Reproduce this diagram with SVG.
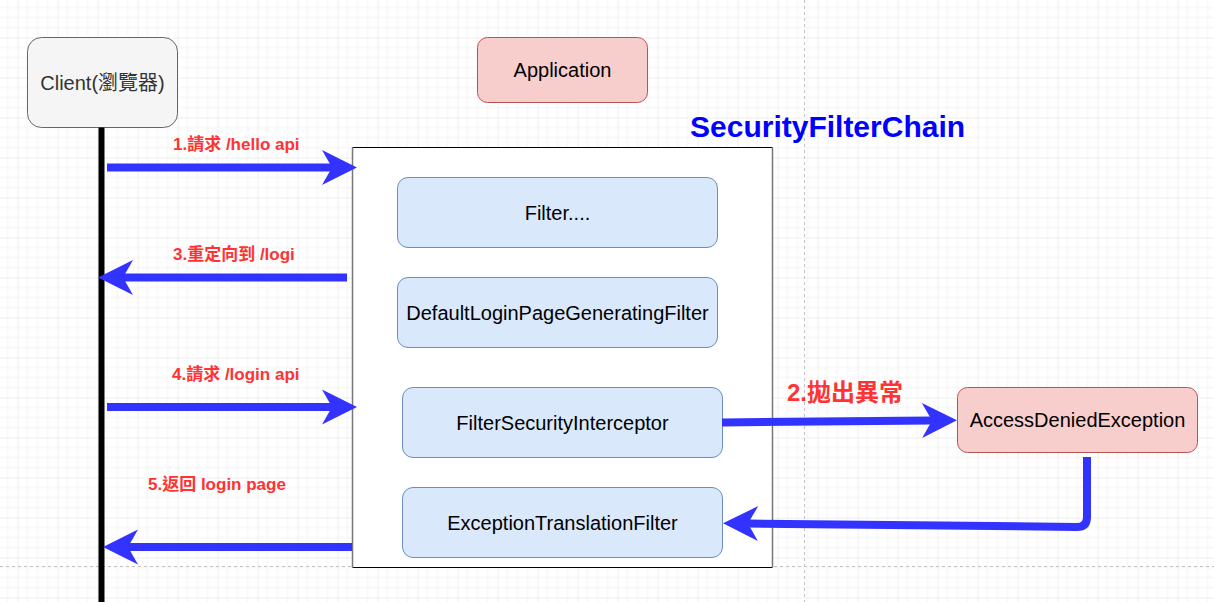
<svg xmlns="http://www.w3.org/2000/svg" width="1214" height="602" viewBox="0 0 1214 602">
<style>
text{font-family:"Liberation Sans","Noto Sans CJK TC",sans-serif}
.n{font-size:20px;text-anchor:middle;fill:#000}
.blue{fill:#dae8fc;stroke:#6c8ebf;stroke-width:1}
.red{fill:#f8cecc;stroke:#b85450;stroke-width:1}
.lbl{font-size:17px;font-weight:bold;fill:#ff3333}
.arr{fill:none;stroke:#3333ff;stroke-width:8;marker-end:url(#head)}
.pg{stroke:#c0c0c0;stroke-width:1;stroke-dasharray:3 3;fill:none}
</style>
<defs>
<pattern id="grid" patternUnits="userSpaceOnUse" x="17.5" y="37.5" width="40" height="40">
<rect width="40" height="40" fill="#fff"/>
<path d="M10 0V40M20 0V40M30 0V40M0 10H40M0 20H40M0 30H40" stroke="#f3f3f3" stroke-width="1"/>
<path d="M0 0V40M0 0H40" stroke="#e0e0e0" stroke-width="1"/>
</pattern>
<marker id="head" markerUnits="userSpaceOnUse" markerWidth="36" markerHeight="36" refX="10" refY="17.5" orient="auto" overflow="visible">
<path d="M0,0 L35,17.5 L0,35 L10,17.5 Z" fill="#3333ff"/>
</marker>
</defs>
<rect width="1214" height="602" fill="url(#grid)"/>
<path class="pg" d="M804.5 0V602M0 566.5H1214"/>

<g id="frame">
<rect x="352.5" y="147.5" width="420" height="420" fill="#fff"/>
<path d="M352.5 147.5H772.5M352.5 567.5H772.5" stroke="#000" stroke-width="1"/>
<path d="M352.5 147.5V567.5M772.5 147.5V567.5" stroke="#777" stroke-width="1.5"/>
</g>
<g id="title">
<text x="690" y="137" style="font-size:30px;font-weight:bold;fill:#0000ff">SecurityFilterChain</text>
</g>

<g id="client">
<rect x="27.5" y="37.5" width="150" height="90" rx="14" fill="#f5f5f5" stroke="#666" stroke-width="1"/>
<text class="n" x="102.5" y="89.5" style="fill:#333">Client(瀏覽器)</text>
</g>
<g id="lifeline">
<path d="M101.5 127.5V602" stroke="#000" stroke-width="6"/>
</g>
<g id="application">
<rect class="red" x="477.5" y="37.5" width="170" height="65" rx="10"/>
<text class="n" x="562.5" y="77">Application</text>
</g>
<g id="filter">
<rect class="blue" x="397.5" y="177.5" width="320" height="70" rx="10.5"/>
<text class="n" x="557.5" y="219.5">Filter....</text>
</g>
<g id="defaultLogin">
<rect class="blue" x="397.5" y="277.5" width="320" height="70" rx="10.5"/>
<text class="n" x="557.5" y="319.5">DefaultLoginPageGeneratingFilter</text>
</g>
<g id="fsi">
<rect class="blue" x="402.5" y="387.5" width="320" height="70" rx="10.5"/>
<text class="n" x="562.5" y="429.5">FilterSecurityInterceptor</text>
</g>
<g id="etf">
<rect class="blue" x="402.5" y="487.5" width="320" height="70" rx="10.5"/>
<text class="n" x="562.5" y="529.5">ExceptionTranslationFilter</text>
</g>
<g id="ade">
<rect class="red" x="957.5" y="387.5" width="240" height="65" rx="10"/>
<text class="n" x="1077.5" y="427">AccessDeniedException</text>
</g>

<g id="connectors">
<path class="arr" d="M107 167.5H332"/>
<path class="arr" d="M347 277.5H123"/>
<path class="arr" d="M107 407H332"/>
<path class="arr" d="M352 547H128"/>
<path class="arr" d="M722 422.5L932 420.5"/>
<path class="arr" d="M1087 457V517Q1087 527 1077 527L748 523.5"/>
</g>
<g id="labels">
<text class="lbl" x="173" y="150">1.請求 /hello api</text>
<text class="lbl" x="173" y="260">3.重定向到 /logi</text>
<text class="lbl" x="172" y="380">4.請求 /login api</text>
<text class="lbl" x="148" y="490">5.返回 login page</text>
<text class="lbl" x="787" y="401" style="font-size:24px">2.拋出異常</text>
</g>
</svg>
